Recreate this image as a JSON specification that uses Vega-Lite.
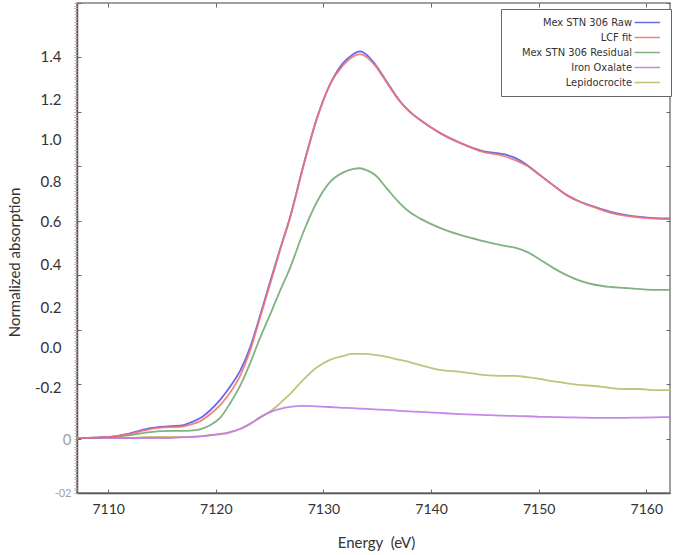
{
  "$schema": "https://vega.github.io/schema/vega-lite/v6.json",
  "width": 593,
  "height": 490,
  "autosize": "none",
  "padding": {"left": 77, "top": 3, "right": 5, "bottom": 62},
  "background": "white",
  "config": {"view": {"stroke": "#808080", "strokeWidth": 1.5}, "font": "Lato"},
  "data": {"values": [
    {"s":"Lepidocrocite","x":7107.1,"y":0.002},{"s":"Lepidocrocite","x":7110.2,"y":0.002},{"s":"Lepidocrocite","x":7112.1,"y":0.002},{"s":"Lepidocrocite","x":7113.9,"y":0.006},{"s":"Lepidocrocite","x":7115.8,"y":0.006},{"s":"Lepidocrocite","x":7116.7,"y":0.006},{"s":"Lepidocrocite","x":7117.6,"y":0.006},{"s":"Lepidocrocite","x":7118.6,"y":0.009},{"s":"Lepidocrocite","x":7119.5,"y":0.013},{"s":"Lepidocrocite","x":7120.4,"y":0.015},{"s":"Lepidocrocite","x":7121.3,"y":0.022},{"s":"Lepidocrocite","x":7122.3,"y":0.036},{"s":"Lepidocrocite","x":7123.2,"y":0.053},{"s":"Lepidocrocite","x":7124.1,"y":0.079},{"s":"Lepidocrocite","x":7125.1,"y":0.101},{"s":"Lepidocrocite","x":7126.0,"y":0.131},{"s":"Lepidocrocite","x":7126.9,"y":0.164},{"s":"Lepidocrocite","x":7128.1,"y":0.215},{"s":"Lepidocrocite","x":7129.4,"y":0.262},{"s":"Lepidocrocite","x":7130.6,"y":0.289},{"s":"Lepidocrocite","x":7131.8,"y":0.303},{"s":"Lepidocrocite","x":7132.7,"y":0.311},{"s":"Lepidocrocite","x":7133.4,"y":0.311},{"s":"Lepidocrocite","x":7134.0,"y":0.311},{"s":"Lepidocrocite","x":7134.8,"y":0.307},{"s":"Lepidocrocite","x":7135.9,"y":0.300},{"s":"Lepidocrocite","x":7137.1,"y":0.289},{"s":"Lepidocrocite","x":7138.0,"y":0.281},{"s":"Lepidocrocite","x":7139.0,"y":0.270},{"s":"Lepidocrocite","x":7140.8,"y":0.252},{"s":"Lepidocrocite","x":7142.7,"y":0.245},{"s":"Lepidocrocite","x":7144.8,"y":0.234},{"s":"Lepidocrocite","x":7146.7,"y":0.230},{"s":"Lepidocrocite","x":7147.8,"y":0.230},{"s":"Lepidocrocite","x":7148.9,"y":0.226},{"s":"Lepidocrocite","x":7150.1,"y":0.219},{"s":"Lepidocrocite","x":7151.3,"y":0.211},{"s":"Lepidocrocite","x":7152.5,"y":0.204},{"s":"Lepidocrocite","x":7153.8,"y":0.197},{"s":"Lepidocrocite","x":7155.2,"y":0.193},{"s":"Lepidocrocite","x":7156.6,"y":0.186},{"s":"Lepidocrocite","x":7158.0,"y":0.182},{"s":"Lepidocrocite","x":7159.4,"y":0.182},{"s":"Lepidocrocite","x":7160.8,"y":0.178},{"s":"Lepidocrocite","x":7162.2,"y":0.178},
    {"s":"Iron Oxalate","x":7107.1,"y":0.002},{"s":"Iron Oxalate","x":7110.2,"y":0.002},{"s":"Iron Oxalate","x":7112.1,"y":0.002},{"s":"Iron Oxalate","x":7113.9,"y":0.002},{"s":"Iron Oxalate","x":7115.8,"y":0.002},{"s":"Iron Oxalate","x":7116.7,"y":0.004},{"s":"Iron Oxalate","x":7117.6,"y":0.006},{"s":"Iron Oxalate","x":7118.6,"y":0.008},{"s":"Iron Oxalate","x":7119.5,"y":0.012},{"s":"Iron Oxalate","x":7120.4,"y":0.017},{"s":"Iron Oxalate","x":7121.3,"y":0.024},{"s":"Iron Oxalate","x":7122.3,"y":0.036},{"s":"Iron Oxalate","x":7123.2,"y":0.055},{"s":"Iron Oxalate","x":7124.1,"y":0.076},{"s":"Iron Oxalate","x":7125.1,"y":0.098},{"s":"Iron Oxalate","x":7126.0,"y":0.109},{"s":"Iron Oxalate","x":7126.9,"y":0.116},{"s":"Iron Oxalate","x":7128.1,"y":0.120},{"s":"Iron Oxalate","x":7129.4,"y":0.118},{"s":"Iron Oxalate","x":7130.6,"y":0.116},{"s":"Iron Oxalate","x":7131.8,"y":0.113},{"s":"Iron Oxalate","x":7132.7,"y":0.112},{"s":"Iron Oxalate","x":7133.4,"y":0.110},{"s":"Iron Oxalate","x":7134.0,"y":0.109},{"s":"Iron Oxalate","x":7134.8,"y":0.107},{"s":"Iron Oxalate","x":7135.9,"y":0.105},{"s":"Iron Oxalate","x":7137.1,"y":0.102},{"s":"Iron Oxalate","x":7138.0,"y":0.100},{"s":"Iron Oxalate","x":7139.0,"y":0.098},{"s":"Iron Oxalate","x":7140.8,"y":0.094},{"s":"Iron Oxalate","x":7142.7,"y":0.090},{"s":"Iron Oxalate","x":7144.8,"y":0.087},{"s":"Iron Oxalate","x":7146.7,"y":0.084},{"s":"Iron Oxalate","x":7147.8,"y":0.083},{"s":"Iron Oxalate","x":7148.9,"y":0.082},{"s":"Iron Oxalate","x":7150.1,"y":0.080},{"s":"Iron Oxalate","x":7151.3,"y":0.079},{"s":"Iron Oxalate","x":7152.5,"y":0.078},{"s":"Iron Oxalate","x":7153.8,"y":0.077},{"s":"Iron Oxalate","x":7155.2,"y":0.076},{"s":"Iron Oxalate","x":7156.6,"y":0.076},{"s":"Iron Oxalate","x":7158.0,"y":0.076},{"s":"Iron Oxalate","x":7159.4,"y":0.077},{"s":"Iron Oxalate","x":7160.8,"y":0.078},{"s":"Iron Oxalate","x":7162.2,"y":0.079},
    {"s":"Mex STN 306 Residual","x":7107.1,"y":0.002},{"s":"Mex STN 306 Residual","x":7110.2,"y":0.006},{"s":"Mex STN 306 Residual","x":7112.1,"y":0.013},{"s":"Mex STN 306 Residual","x":7113.9,"y":0.024},{"s":"Mex STN 306 Residual","x":7115.8,"y":0.028},{"s":"Mex STN 306 Residual","x":7116.7,"y":0.028},{"s":"Mex STN 306 Residual","x":7117.6,"y":0.029},{"s":"Mex STN 306 Residual","x":7118.6,"y":0.035},{"s":"Mex STN 306 Residual","x":7119.5,"y":0.050},{"s":"Mex STN 306 Residual","x":7120.4,"y":0.076},{"s":"Mex STN 306 Residual","x":7121.3,"y":0.128},{"s":"Mex STN 306 Residual","x":7122.3,"y":0.197},{"s":"Mex STN 306 Residual","x":7123.2,"y":0.278},{"s":"Mex STN 306 Residual","x":7124.1,"y":0.369},{"s":"Mex STN 306 Residual","x":7125.1,"y":0.461},{"s":"Mex STN 306 Residual","x":7126.0,"y":0.546},{"s":"Mex STN 306 Residual","x":7126.9,"y":0.627},{"s":"Mex STN 306 Residual","x":7128.1,"y":0.755},{"s":"Mex STN 306 Residual","x":7129.4,"y":0.870},{"s":"Mex STN 306 Residual","x":7130.6,"y":0.942},{"s":"Mex STN 306 Residual","x":7131.8,"y":0.977},{"s":"Mex STN 306 Residual","x":7132.7,"y":0.990},{"s":"Mex STN 306 Residual","x":7133.4,"y":0.993},{"s":"Mex STN 306 Residual","x":7134.0,"y":0.986},{"s":"Mex STN 306 Residual","x":7134.8,"y":0.968},{"s":"Mex STN 306 Residual","x":7135.9,"y":0.918},{"s":"Mex STN 306 Residual","x":7137.1,"y":0.864},{"s":"Mex STN 306 Residual","x":7138.0,"y":0.832},{"s":"Mex STN 306 Residual","x":7139.0,"y":0.808},{"s":"Mex STN 306 Residual","x":7140.8,"y":0.774},{"s":"Mex STN 306 Residual","x":7142.7,"y":0.748},{"s":"Mex STN 306 Residual","x":7144.8,"y":0.726},{"s":"Mex STN 306 Residual","x":7146.7,"y":0.709},{"s":"Mex STN 306 Residual","x":7147.8,"y":0.701},{"s":"Mex STN 306 Residual","x":7148.9,"y":0.686},{"s":"Mex STN 306 Residual","x":7150.1,"y":0.658},{"s":"Mex STN 306 Residual","x":7151.3,"y":0.628},{"s":"Mex STN 306 Residual","x":7152.5,"y":0.602},{"s":"Mex STN 306 Residual","x":7153.8,"y":0.580},{"s":"Mex STN 306 Residual","x":7155.2,"y":0.565},{"s":"Mex STN 306 Residual","x":7156.6,"y":0.557},{"s":"Mex STN 306 Residual","x":7158.0,"y":0.553},{"s":"Mex STN 306 Residual","x":7159.4,"y":0.549},{"s":"Mex STN 306 Residual","x":7160.8,"y":0.546},{"s":"Mex STN 306 Residual","x":7162.2,"y":0.546},
    {"s":"Mex STN 306 Raw","x":7107.1,"y":0.002},{"s":"Mex STN 306 Raw","x":7110.2,"y":0.006},{"s":"Mex STN 306 Raw","x":7112.1,"y":0.020},{"s":"Mex STN 306 Raw","x":7113.9,"y":0.038},{"s":"Mex STN 306 Raw","x":7115.8,"y":0.046},{"s":"Mex STN 306 Raw","x":7116.7,"y":0.047},{"s":"Mex STN 306 Raw","x":7117.6,"y":0.058},{"s":"Mex STN 306 Raw","x":7118.6,"y":0.076},{"s":"Mex STN 306 Raw","x":7119.5,"y":0.105},{"s":"Mex STN 306 Raw","x":7120.4,"y":0.142},{"s":"Mex STN 306 Raw","x":7121.3,"y":0.189},{"s":"Mex STN 306 Raw","x":7122.3,"y":0.252},{"s":"Mex STN 306 Raw","x":7123.2,"y":0.336},{"s":"Mex STN 306 Raw","x":7124.1,"y":0.450},{"s":"Mex STN 306 Raw","x":7125.1,"y":0.583},{"s":"Mex STN 306 Raw","x":7126.0,"y":0.700},{"s":"Mex STN 306 Raw","x":7126.9,"y":0.814},{"s":"Mex STN 306 Raw","x":7128.1,"y":0.998},{"s":"Mex STN 306 Raw","x":7129.4,"y":1.178},{"s":"Mex STN 306 Raw","x":7130.6,"y":1.300},{"s":"Mex STN 306 Raw","x":7131.8,"y":1.378},{"s":"Mex STN 306 Raw","x":7132.7,"y":1.410},{"s":"Mex STN 306 Raw","x":7133.4,"y":1.422},{"s":"Mex STN 306 Raw","x":7134.0,"y":1.410},{"s":"Mex STN 306 Raw","x":7134.8,"y":1.375},{"s":"Mex STN 306 Raw","x":7135.9,"y":1.310},{"s":"Mex STN 306 Raw","x":7137.1,"y":1.240},{"s":"Mex STN 306 Raw","x":7138.0,"y":1.202},{"s":"Mex STN 306 Raw","x":7139.0,"y":1.170},{"s":"Mex STN 306 Raw","x":7140.8,"y":1.123},{"s":"Mex STN 306 Raw","x":7142.7,"y":1.086},{"s":"Mex STN 306 Raw","x":7144.8,"y":1.056},{"s":"Mex STN 306 Raw","x":7146.7,"y":1.045},{"s":"Mex STN 306 Raw","x":7147.8,"y":1.031},{"s":"Mex STN 306 Raw","x":7148.9,"y":1.005},{"s":"Mex STN 306 Raw","x":7150.1,"y":0.968},{"s":"Mex STN 306 Raw","x":7151.3,"y":0.932},{"s":"Mex STN 306 Raw","x":7152.5,"y":0.897},{"s":"Mex STN 306 Raw","x":7153.8,"y":0.871},{"s":"Mex STN 306 Raw","x":7155.2,"y":0.851},{"s":"Mex STN 306 Raw","x":7156.6,"y":0.834},{"s":"Mex STN 306 Raw","x":7158.0,"y":0.822},{"s":"Mex STN 306 Raw","x":7159.4,"y":0.814},{"s":"Mex STN 306 Raw","x":7160.8,"y":0.810},{"s":"Mex STN 306 Raw","x":7162.2,"y":0.809},
    {"s":"LCF fit","x":7107.1,"y":0.002},{"s":"LCF fit","x":7110.2,"y":0.006},{"s":"LCF fit","x":7112.1,"y":0.018},{"s":"LCF fit","x":7113.9,"y":0.035},{"s":"LCF fit","x":7115.8,"y":0.042},{"s":"LCF fit","x":7116.7,"y":0.043},{"s":"LCF fit","x":7117.6,"y":0.051},{"s":"LCF fit","x":7118.6,"y":0.065},{"s":"LCF fit","x":7119.5,"y":0.090},{"s":"LCF fit","x":7120.4,"y":0.123},{"s":"LCF fit","x":7121.3,"y":0.167},{"s":"LCF fit","x":7122.3,"y":0.234},{"s":"LCF fit","x":7123.2,"y":0.325},{"s":"LCF fit","x":7124.1,"y":0.443},{"s":"LCF fit","x":7125.1,"y":0.575},{"s":"LCF fit","x":7126.0,"y":0.696},{"s":"LCF fit","x":7126.9,"y":0.810},{"s":"LCF fit","x":7128.1,"y":0.994},{"s":"LCF fit","x":7129.4,"y":1.176},{"s":"LCF fit","x":7130.6,"y":1.300},{"s":"LCF fit","x":7131.8,"y":1.370},{"s":"LCF fit","x":7132.7,"y":1.402},{"s":"LCF fit","x":7133.4,"y":1.412},{"s":"LCF fit","x":7134.0,"y":1.402},{"s":"LCF fit","x":7134.8,"y":1.370},{"s":"LCF fit","x":7135.9,"y":1.306},{"s":"LCF fit","x":7137.1,"y":1.238},{"s":"LCF fit","x":7138.0,"y":1.200},{"s":"LCF fit","x":7139.0,"y":1.170},{"s":"LCF fit","x":7140.8,"y":1.123},{"s":"LCF fit","x":7142.7,"y":1.086},{"s":"LCF fit","x":7144.8,"y":1.053},{"s":"LCF fit","x":7146.7,"y":1.038},{"s":"LCF fit","x":7147.8,"y":1.023},{"s":"LCF fit","x":7148.9,"y":1.002},{"s":"LCF fit","x":7150.1,"y":0.968},{"s":"LCF fit","x":7151.3,"y":0.932},{"s":"LCF fit","x":7152.5,"y":0.897},{"s":"LCF fit","x":7153.8,"y":0.870},{"s":"LCF fit","x":7155.2,"y":0.849},{"s":"LCF fit","x":7156.6,"y":0.830},{"s":"LCF fit","x":7158.0,"y":0.819},{"s":"LCF fit","x":7159.4,"y":0.812},{"s":"LCF fit","x":7160.8,"y":0.808},{"s":"LCF fit","x":7162.2,"y":0.806}
  ]},
  "resolve": {"axis": {"x": "independent", "y": "independent"}},
  "layer": [
    {
      "mark": {"type": "line", "interpolate": "monotone", "strokeWidth": 1.8, "opacity": 0.9, "clip": true},
      "encoding": {
        "x": {"field": "x", "type": "quantitative", "scale": {"domain": [7107.1, 7162.2], "nice": false, "zero": false},
          "axis": {"orient": "bottom", "values": [7110, 7120, 7130, 7140, 7150, 7160], "format": "d", "ticks": false, "grid": false,
            "domainColor": "#555555", "domainWidth": 1.5, "labelFont": "Lato", "labelFontSize": 14, "labelColor": "#333333", "labelPadding": 9,
            "title": "Energy\u00a0 (eV)", "titleFont": "Lato", "titleFontSize": 15, "titleFontWeight": "normal", "titleColor": "#333333",
            "titleX": 299, "titleY": 49, "titleBaseline": "middle", "titleAlign": "center"}},
        "y": {"field": "y", "type": "quantitative", "scale": {"domain": [-0.2, 1.6], "nice": false, "zero": false},
          "axis": {"orient": "left", "values": [1.402, 1.247, 1.097, 0.946, 0.796, 0.638, 0.483, 0.333, 0.186, -0.005, -0.2],
            "labelExpr": "datum.value > 1.32 ? '1.4' : datum.value > 1.17 ? '1.2' : datum.value > 1.02 ? '1.0' : datum.value > 0.87 ? '0.8' : datum.value > 0.72 ? '0.6' : datum.value > 0.56 ? '0.4' : datum.value > 0.41 ? '0.2' : datum.value > 0.26 ? '0.0' : datum.value > 0.09 ? '-0.2' : datum.value > -0.1 ? '0' : '-02'",
            "ticks": false, "grid": false, "domainColor": "#555555", "domainWidth": 1.5,
            "labelFont": "Lato", "labelColor": {"condition": {"test": "datum.value < 0.09", "value": "#a0a0a0"}, "value": "#333333"},
            "labelFontSize": {"condition": {"test": "datum.value < -0.1", "value": 11}, "value": 15},
            "labelPadding": {"condition": {"test": "datum.value < 0.09", "value": 6}, "value": 16},
            "labelOverlap": false, "labelBound": false,
            "title": "Normalized absorption", "titleFont": "Lato", "titleFontSize": 15, "titleFontWeight": "normal", "titleColor": "#333333",
            "titleX": -63, "titleY": 259, "titleAlign": "center", "titleBaseline": "middle", "titleAngle": -90}},
        "color": {"field": "s", "type": "nominal",
          "scale": {"domain": ["Mex STN 306 Raw", "LCF fit", "Mex STN 306 Residual", "Iron Oxalate", "Lepidocrocite"],
                    "range": ["#5a5ae6", "#f27474", "#72a872", "#c27ae8", "#bdbb6c"]},
          "legend": {"orient": "none", "legendX": 424, "legendY": 6, "title": null,
            "symbolType": "M40,0H48.5", "symbolSize": 36, "symbolStrokeWidth": 1.5,
            "labelAlign": "right", "labelOffset": 112, "labelFont": "DejaVu Sans Condensed, Liberation Sans, sans-serif", "labelFontSize": 11, "labelColor": "#333333",
            "fillColor": "white", "strokeColor": "#666666", "padding": 8, "rowPadding": 3}}
      }
    },
    {
      "mark": {"type": "line", "opacity": 0},
      "encoding": {
        "x": {"field": "x", "type": "quantitative", "scale": {"domain": [7107.1, 7162.2], "nice": false, "zero": false},
          "axis": {"orient": "bottom", "offset": -4, "values": [7110, 7120, 7130, 7140, 7150, 7160], "labels": false, "domain": false, "ticks": true, "tickSize": 4, "tickColor": "#666666", "grid": false, "title": null}},
        "y": {"field": "y", "type": "quantitative", "scale": {"domain": [-0.2, 1.6], "nice": false, "zero": false},
          "axis": {"orient": "left", "tickCount": 180, "labels": false, "domain": false, "ticks": true, "tickSize": 3, "tickColor": "#c4a8a8", "tickWidth": 1, "grid": false, "title": null}}
      }
    },
    {
      "mark": {"type": "line", "opacity": 0},
      "encoding": {
        "x": {"field": "x", "type": "quantitative", "scale": {"domain": [7107.1, 7162.2], "nice": false, "zero": false},
          "axis": {"orient": "top", "offset": -4, "values": [7110, 7120, 7130, 7140, 7150, 7160], "labels": false, "domain": false, "ticks": true, "tickSize": 4, "tickColor": "#666666", "grid": false, "title": null}},
        "y": {"field": "y", "type": "quantitative", "scale": {"domain": [-0.2, 1.6], "nice": false, "zero": false},
          "axis": {"orient": "left", "offset": -4, "values": [-0.2, 0, 0.2, 0.4, 0.6, 0.8, 1.0, 1.2, 1.4, 1.6], "labels": false, "domain": false, "ticks": true, "tickSize": 4, "tickColor": "#666666", "grid": false, "title": null}}
      }
    },
    {
      "mark": {"type": "line", "opacity": 0},
      "encoding": {
        "x": {"field": "x", "type": "quantitative", "scale": {"domain": [7107.1, 7162.2], "nice": false, "zero": false}, "axis": null},
        "y": {"field": "y", "type": "quantitative", "scale": {"domain": [-0.2, 1.6], "nice": false, "zero": false},
          "axis": {"orient": "right", "offset": -4, "values": [-0.2, 0, 0.2, 0.4, 0.6, 0.8, 1.0, 1.2, 1.4, 1.6], "labels": false, "domain": false, "ticks": true, "tickSize": 4, "tickColor": "#666666", "grid": false, "title": null}}
      }
    }
  ]
}
